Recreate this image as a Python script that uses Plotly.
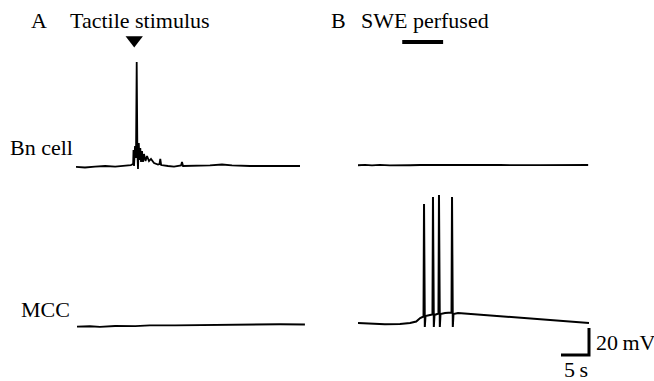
import plotly.graph_objects as go

# ---- recorded traces: time in s, membrane potential in mV (relative to rest) ----
# A, Bn cell: response to a tactile stimulus
bn_a_t = [0.0, 1.6, 3.4, 5.2, 7.0, 8.75, 9.8, 10.2, 10.27, 10.36, 10.54, 10.71, 10.84,
          10.96, 11.07, 11.21, 11.34, 11.48, 11.61, 11.79, 11.96, 12.14, 12.41, 12.68,
          13.04, 13.39, 13.93, 14.64, 14.91, 15.05, 15.21, 16.43, 17.5, 18.75, 18.93,
          19.11, 21.25, 23.93, 26.07, 27.86, 31.07, 34.64, 40.0]
bn_a_v = [-0.7, -1.1, -0.4, 0.0, -0.4, 0.4, 0.7, 1.5, 11.9, 0.0, 14.8, 5.9, 77.0,
          10.4, -2.2, 17.0, 4.4, 13.3, 3.0, 11.1, 3.0, 8.9, 3.7, 7.4,
          3.7, 5.2, 2.2, 1.1, 1.5, 5.2, 0.7, 0.0, -0.4, 0.4, 3.0,
          0.0, 0.0, 0.4, 1.1, 0.4, 0.0, 0.0, 0.0]

# A, MCC: no response to the tactile stimulus
mcc_a_t = [0.0, 2.3, 4.1, 6.8, 10.4, 13.0, 17.5, 22.0, 26.4, 30.9, 36.25, 40.7]
mcc_a_v = [-0.5, -0.2, -0.6, 0.0, -0.1, 0.4, 0.5, 0.7, 1.1, 1.3, 1.3, 1.1]

# B, Bn cell: no response to SWE perfusion
bn_b_t = [0.0, 1.25, 2.5, 3.9, 5.7, 7.5, 9.3, 11.1, 15.5, 20.0, 25.4, 32.5, 41.1]
bn_b_v = [-0.2, 0.15, -0.3, 0.1, -0.3, 0.0, -0.2, 0.0, -0.15, 0.1, 0.0, -0.1, 0.0]

# B, MCC: depolarisation with four action potentials during SWE perfusion
mcc_b_t = [0.0, 2.1, 4.8, 7.5, 9.3, 10.4, 11.1, 11.7,
           11.79, 11.93, 12.05, 12.86, 13.3,
           13.39, 13.54, 13.66, 14.1, 14.37,
           14.46, 14.61, 14.73, 15.54, 16.7,
           16.79, 16.93, 17.05, 17.86, 19.1, 21.8, 25.4, 28.9, 32.5, 36.1, 38.75, 41.25]
mcc_b_v = [0.0, -0.6, -1.0, -0.7, 0.0, 1.1, 3.7, 4.8,
           88.1, -3.0, 5.2, 5.9, 6.3,
           93.3, -3.0, 5.9, 6.7, 7.0,
           94.8, -3.0, 6.7, 7.4, 7.8,
           93.3, -3.0, 6.7, 7.4, 7.0, 6.3, 5.2, 3.7, 2.6, 1.5, 0.7, 0.0]

STIM_TIME = 10.4            # s, tactile stimulus (A)
SWE_ON, SWE_OFF = 7.9, 15.2  # s, SWE perfusion (B)
SCALE_T = 5                 # s
SCALE_V = 20                # mV

# ---- page geometry ----
W, H = 654, 381
PX_PER_S = 5.6
PX_PER_MV = 1.35
FONT = "'Liberation Serif', 'Times New Roman', Times, 'DejaVu Serif', serif"

# trace origin (t=0, v=0) of each record, in page pixels
origins = {
    "bn_a": (76, 166),
    "mcc_a": (77, 326),
    "bn_b": (358, 165),
    "mcc_b": (358, 323),
}
axis_ids = {"bn_a": "", "mcc_a": "2", "bn_b": "3", "mcc_b": "4"}

fig = go.Figure()
line = dict(color="black", width=1.8)


def add(key, t, v, **kw):
    n = axis_ids[key]
    fig.add_trace(go.Scatter(x=t, y=v, xaxis="x" + n, yaxis="y" + n,
                             showlegend=False, hoverinfo="skip", **kw))


add("bn_a", bn_a_t, bn_a_v, mode="lines", line=line)
add("mcc_a", mcc_a_t, mcc_a_v, mode="lines", line=line)
add("bn_b", bn_b_t, bn_b_v, mode="lines", line=line)
add("mcc_b", mcc_b_t, mcc_b_v, mode="lines", line=dict(color="black", width=2))

# stimulus marker above the Bn cell record in A
add("bn_a", [STIM_TIME], [93.3], mode="markers",
    marker=dict(symbol="triangle-down", size=15, color="black"))

# SWE perfusion bar above the Bn cell record in B
add("bn_b", [SWE_ON, SWE_OFF], [91.1, 91.1], mode="lines",
    line=dict(color="black", width=4))

# scale bar (5 s, 20 mV) in the MCC record of B
sb_t0 = mcc_b_t[-1]
sb_v0 = -23.7
add("mcc_b", [sb_t0 - SCALE_T, sb_t0, sb_t0], [sb_v0, sb_v0, sb_v0 + SCALE_V],
    mode="lines", line=dict(color="black", width=3))

layout = dict(width=W, height=H, margin=dict(l=0, r=0, t=0, b=0),
              paper_bgcolor="white", plot_bgcolor="white", showlegend=False)
for key, (x0, y0) in origins.items():
    n = axis_ids[key]
    xa = dict(domain=[0, 1], range=[-x0 / PX_PER_S, (W - x0) / PX_PER_S], visible=False,
              fixedrange=True, anchor="y" + n)
    ya = dict(domain=[0, 1], range=[-(H - y0) / PX_PER_MV, y0 / PX_PER_MV], visible=False,
              fixedrange=True, anchor="x" + n)
    if n:
        xa["overlaying"] = "x"
        ya["overlaying"] = "y"
    layout["xaxis" + n] = xa
    layout["yaxis" + n] = ya
fig.update_layout(**layout)


def label(text, px, py, xanchor="left", size=22):
    fig.add_annotation(text=text, x=px / W, y=1 - py / H, xref="paper", yref="paper",
                       xanchor=xanchor, yanchor="middle", showarrow=False,
                       font=dict(family=FONT, size=size, color="black"))


label("A", 29, 20)
label("Tactile stimulus", 68, 20)
label("B", 329, 20)
label("SWE perfused", 359, 20)
label("Bn cell", 8, 147)
label("MCC", 19, 309)
label("20\u2009mV", 594, 342)
label("5\u2009s", 576, 369, xanchor="center")

fig.write_html("out.html")
